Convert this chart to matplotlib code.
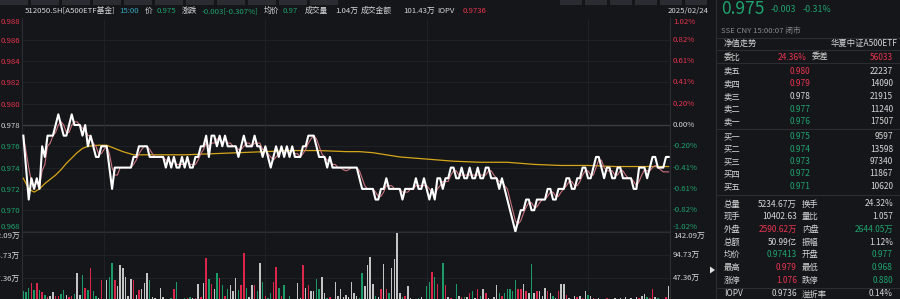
import matplotlib
matplotlib.use('Agg')
import matplotlib.pyplot as plt
import matplotlib.transforms as mtransforms
from matplotlib.patches import Rectangle, Polygon
from matplotlib.lines import Line2D

plt.rcParams['font.family'] = ['Noto Sans CJK SC', 'DejaVu Sans']

# ---------------- data ----------------
prev_close = 0.978

price = [
    0.977, 0.974, 0.971, 0.973, 0.972, 0.973, 0.972, 0.976, 0.975, 0.977,
    0.977, 0.977, 0.978, 0.979, 0.978, 0.977, 0.977, 0.978, 0.979, 0.978,
    0.978, 0.978, 0.977, 0.978, 0.976, 0.977, 0.976, 0.975, 0.975, 0.976,
    0.976, 0.976, 0.974, 0.972, 0.974, 0.974, 0.974, 0.974, 0.974, 0.974,
    0.974, 0.975, 0.975, 0.976, 0.976, 0.976, 0.976, 0.975, 0.975, 0.975,
    0.975, 0.975, 0.975, 0.974, 0.975, 0.974, 0.975, 0.974, 0.974, 0.975,
    0.974, 0.975, 0.974, 0.974, 0.975, 0.975, 0.976, 0.976, 0.977, 0.975,
    0.977, 0.977, 0.976, 0.977, 0.976, 0.977, 0.976, 0.976, 0.976, 0.976,
    0.975, 0.976, 0.977, 0.976, 0.976, 0.976, 0.977, 0.976, 0.976, 0.975,
    0.976, 0.975, 0.974, 0.975, 0.976, 0.975, 0.976, 0.975, 0.976, 0.975,
    0.976, 0.975, 0.975, 0.975, 0.976, 0.976, 0.977, 0.977, 0.977, 0.976,
    0.975, 0.975, 0.975, 0.974, 0.975, 0.974, 0.974, 0.974, 0.974, 0.974,
    0.974, 0.974, 0.974, 0.974, 0.974, 0.973, 0.972, 0.972, 0.972, 0.972,
    0.972, 0.971, 0.971, 0.972, 0.972, 0.973, 0.972, 0.972, 0.972, 0.972,
    0.972, 0.971, 0.972, 0.972, 0.972, 0.972, 0.973, 0.972, 0.972, 0.973,
    0.972, 0.971, 0.972, 0.971, 0.973, 0.973, 0.972, 0.973, 0.973, 0.974,
    0.974, 0.973, 0.973, 0.974, 0.973, 0.973, 0.974, 0.973, 0.973, 0.974,
    0.973, 0.973, 0.974, 0.974, 0.973, 0.973, 0.973, 0.972, 0.973, 0.972,
    0.971, 0.970, 0.969, 0.968, 0.969, 0.970, 0.970, 0.971, 0.971, 0.970,
    0.970, 0.971, 0.971, 0.971, 0.971, 0.972, 0.972, 0.971, 0.971, 0.972,
    0.972, 0.972, 0.973, 0.973, 0.972, 0.972, 0.973, 0.973, 0.974, 0.974,
    0.973, 0.973, 0.974, 0.975, 0.975, 0.974, 0.973, 0.974, 0.974, 0.973,
    0.973, 0.974, 0.974, 0.973, 0.973, 0.973, 0.973, 0.972, 0.972, 0.974,
    0.974, 0.974, 0.973, 0.974, 0.975, 0.975, 0.974, 0.974, 0.974, 0.975,
    0.975,
]

iopv = [
    0.9770, 0.9755, 0.9740, 0.9727, 0.9720, 0.9727, 0.9723, 0.9737, 0.9743, 0.9760,
    0.9763, 0.9770, 0.9773, 0.9780, 0.9783, 0.9780, 0.9773, 0.9773, 0.9780, 0.9783,
    0.9783, 0.9780, 0.9777, 0.9777, 0.9770, 0.9770, 0.9763, 0.9760, 0.9753, 0.9753,
    0.9757, 0.9760, 0.9753, 0.9740, 0.9733, 0.9733, 0.9740, 0.9740, 0.9740, 0.9740,
    0.9740, 0.9743, 0.9747, 0.9753, 0.9757, 0.9760, 0.9760, 0.9757, 0.9753, 0.9750,
    0.9750, 0.9750, 0.9750, 0.9747, 0.9747, 0.9743, 0.9747, 0.9743, 0.9743, 0.9743,
    0.9743, 0.9747, 0.9743, 0.9743, 0.9743, 0.9747, 0.9753, 0.9757, 0.9763, 0.9760,
    0.9763, 0.9763, 0.9767, 0.9767, 0.9763, 0.9767, 0.9763, 0.9763, 0.9760, 0.9760,
    0.9757, 0.9757, 0.9760, 0.9763, 0.9763, 0.9760, 0.9763, 0.9763, 0.9763, 0.9757,
    0.9757, 0.9753, 0.9750, 0.9747, 0.9750, 0.9753, 0.9757, 0.9753, 0.9757, 0.9753,
    0.9757, 0.9753, 0.9753, 0.9750, 0.9753, 0.9757, 0.9763, 0.9767, 0.9770, 0.9767,
    0.9760, 0.9753, 0.9750, 0.9747, 0.9747, 0.9743, 0.9743, 0.9740, 0.9740, 0.9738,
    0.9737, 0.9738, 0.9740, 0.9740, 0.9740, 0.9737, 0.9730, 0.9723, 0.9720, 0.9720,
    0.9720, 0.9717, 0.9713, 0.9713, 0.9717, 0.9723, 0.9723, 0.9723, 0.9720, 0.9720,
    0.9720, 0.9717, 0.9717, 0.9717, 0.9720, 0.9720, 0.9723, 0.9723, 0.9723, 0.9723,
    0.9723, 0.9720, 0.9717, 0.9713, 0.9720, 0.9723, 0.9727, 0.9727, 0.9727, 0.9733,
    0.9737, 0.9737, 0.9733, 0.9733, 0.9733, 0.9733, 0.9733, 0.9733, 0.9733, 0.9733,
    0.9733, 0.9733, 0.9733, 0.9737, 0.9737, 0.9733, 0.9730, 0.9727, 0.9727, 0.9723,
    0.9720, 0.9710, 0.9700, 0.9690, 0.9687, 0.9690, 0.9697, 0.9703, 0.9707, 0.9707,
    0.9703, 0.9703, 0.9707, 0.9710, 0.9710, 0.9713, 0.9717, 0.9717, 0.9713, 0.9713,
    0.9717, 0.9720, 0.9723, 0.9727, 0.9727, 0.9723, 0.9723, 0.9727, 0.9733, 0.9737,
    0.9737, 0.9733, 0.9733, 0.9740, 0.9747, 0.9747, 0.9740, 0.9737, 0.9737, 0.9737,
    0.9733, 0.9733, 0.9737, 0.9737, 0.9733, 0.9730, 0.9730, 0.9727, 0.9723, 0.9727,
    0.9733, 0.9738, 0.9737, 0.9737, 0.9740, 0.9742, 0.9740, 0.9738, 0.9736, 0.9736,
    0.9736,
]

avg_minutes = [0, 2, 4, 6, 8, 10, 12, 14, 16, 18, 20, 22, 24, 28, 31, 34, 37, 41,
               50, 60, 70, 80, 90, 100, 110, 120, 125, 130, 135, 140, 145, 150,
               155, 160, 170, 180, 185, 190, 200, 210, 220, 230, 240]
avg_price = [0.9730, 0.9720, 0.9717, 0.9720, 0.9725, 0.9729, 0.9733, 0.9738,
             0.9744, 0.9749, 0.9754, 0.9758, 0.9760, 0.9761, 0.9761, 0.9758,
             0.9755, 0.9752, 0.9752, 0.9752, 0.9753, 0.9754, 0.9755, 0.9756,
             0.9756, 0.9755, 0.9755, 0.9754, 0.9752, 0.9750, 0.9749, 0.9748,
             0.9747, 0.9746, 0.9745, 0.9745, 0.9744, 0.9743, 0.9742, 0.9742,
             0.9741, 0.9741, 0.9741]

volume = [  # 万
    20, 19, 27, 37, 22, 37, 22, 18, 12, 8,
    10, 18, 10, 10, 14, 22, 12, 8, 10, 14,
    57, 12, 53, 27, 22, 68, 20, 10, 6, 43,
    4, 43, 49, 79, 43, 30, 74, 68, 49, 10,
    45, 43, 12, 22, 24, 38, 57, 43, 8, 6,
    5, 26, 8, 5, 4, 6, 24, 39, 4, 5,
    7, 6, 8, 7, 6, 34, 8, 37, 88, 45,
    34, 24, 57, 47, 32, 10, 24, 32, 20, 47,
    22, 32, 99, 27, 8, 32, 32, 20, 79, 39,
    10, 6, 16, 40, 71, 27, 10, 32, 4, 10,
    3, 4, 37, 6, 74, 27, 32, 20, 20, 45,
    24, 49, 16, 6, 8, 5, 39, 10, 24, 8,
    12, 8, 40, 16, 10, 6, 57, 30, 74, 90,
    34, 10, 8, 24, 76, 24, 16, 68, 86, 140,
    16, 8, 10, 30, 6, 4, 5, 6, 8, 5,
    30, 39, 60, 50, 36, 4, 79, 33, 8, 6,
    4, 36, 10, 8, 8, 8, 16, 20, 6, 24,
    10, 24, 16, 6, 4, 8, 33, 16, 10, 16,
    24, 24, 20, 43, 24, 24, 36, 20, 16, 77,
    16, 20, 20, 10, 27, 20, 16, 10, 6, 20,
    36, 36, 13, 6, 4, 10, 8, 10, 6, 20,
    13, 10, 6, 4, 6, 4, 5, 6, 4, 5,
    6, 5, 6, 4, 8, 5, 6, 4, 8, 6,
    10, 14, 8, 6, 24, 8, 6, 5, 4, 8,
    30,
]

price_ticks = [0.968, 0.970, 0.972, 0.974, 0.976, 0.978, 0.980, 0.982, 0.984, 0.986, 0.988]
pct_labels = ['-1.02%', '-0.82%', '-0.61%', '-0.41%', '-0.20%', '0.00%',
              '0.20%', '0.41%', '0.61%', '0.82%', '1.02%']
vol_ticks = [47.36, 94.73, 142.09]
vol_labels = ['47.36万', '94.73万', '142.09万']
time_grid = [30, 90, 150, 210]

header = [
    ('512050.SH[A500ETF基金]', 'w'), ('15:00', 't'), ('价', 'w'), ('0.975', 'g'),
    ('涨跌', 'w'), ('-0.003[-0.307%]', 'g'), ('均价', 'w'), ('0.97', 'g'),
    ('成交量', 'w'), ('1.04万', 'w'), ('成交金额', 'w'), ('101.43万', 'w'),
    ('IOPV', 'w'), ('0.9736', 'r'),
]
header_x = [25, 119, 145, 157, 182, 202, 264, 283, 305, 335, 361, 403, 437, 463]

ask_labels = ['卖五', '卖四', '卖三', '卖二', '卖一']
ask_prices = ['0.980', '0.979', '0.978', '0.977', '0.976']
ask_vols = ['22237', '14090', '21915', '11240', '17507']
bid_labels = ['买一', '买二', '买三', '买四', '买五']
bid_prices = ['0.975', '0.974', '0.973', '0.972', '0.971']
bid_vols = ['9597', '13598', '97340', '11867', '10620']

stats_rows = [
    ('总量', '5234.67万', 'w', '换手', '24.32%', 'w'),
    ('现手', '10402.63', 'w', '量比', '1.057', 'w'),
    ('外盘', '2590.62万', 'r', '内盘', '2644.05万', 'g'),
    ('总额', '50.99亿', 'w', '振幅', '1.12%', 'w'),
    ('均价', '0.97413', 'g', '开盘', '0.977', 'g'),
    ('最高', '0.979', 'r', '最低', '0.968', 'g'),
    ('涨停', '1.076', 'r', '跌停', '0.880', 'g'),
]

# ---------------- style ----------------
W, H = 900, 299
BG = '#15161a'
RED = '#e8344f'
GREEN = '#1fa36e'
WHITE = '#d6d6d6'
TEAL = '#35a9c0'
GRAY = '#8a8b90'
GRID = '#232429'
SEP = '#2c2d33'
cmap = {'w': WHITE, 'r': RED, 'g': GREEN, 't': TEAL}


def fx(px):
    return px / W


def fy(py):
    return 1 - py / H


def price_color(v):
    if v > prev_close + 1e-9:
        return RED
    if v < prev_close - 1e-9:
        return GREEN
    return WHITE


fig = plt.figure(figsize=(9, 2.99), dpi=100, facecolor=BG)

# top tab strip (cut off in the reference)
for x0 in range(0, 330, 31):
    fig.add_artist(Rectangle((fx(x0), fy(5)), fx(28), 5 / H, transform=fig.transFigure,
                             facecolor='#2b2c31', edgecolor='none'))
for x0 in range(560, 710, 25):
    fig.add_artist(Rectangle((fx(x0), fy(5)), fx(22), 5 / H, transform=fig.transFigure,
                             facecolor='#2b2c31', edgecolor='none'))

# ---------------- main price axes ----------------
top_px, bot_px = 18.5, 231.5
ax = fig.add_axes([fx(22), fy(bot_px), fx(648), (bot_px - top_px) / H])
ax.set_facecolor(BG)
minutes = list(range(len(price)))
ax.set_xlim(-0.5, len(price) - 0.5)
ax.set_ylim(price_ticks[0], price_ticks[-1])

for t in price_ticks:
    if abs(t - prev_close) < 1e-9:
        ax.axhline(t, color='#3d3e44', lw=0.9, zorder=1)
    else:
        ax.axhline(t, color=GRID, lw=0.6, zorder=1)
for m in time_grid:
    ax.axvline(m, color=GRID, lw=0.6, zorder=1)

ax.plot(avg_minutes, avg_price, color='#d6a619', lw=0.9, zorder=3)
ax.plot(minutes, iopv, color='#c9727c', lw=0.8, zorder=4)
ax.plot(minutes, price, color='#ffffff', lw=1.5, zorder=5)

ax.set_xticks([])
ax.set_yticks(price_ticks)
ax.set_yticklabels([f'{t:.3f}' for t in price_ticks])
ax.tick_params(axis='y', length=0, pad=1.5, labelsize=5.6)
labels = ax.get_yticklabels()
for t, lab in zip(price_ticks, labels):
    lab.set_color(price_color(t))
labels[0].set_va('bottom')
labels[-1].set_va('top')

trans = mtransforms.blended_transform_factory(ax.transAxes, ax.transData)
n = len(price_ticks)
for i, (t, lab) in enumerate(zip(price_ticks, pct_labels)):
    va = 'bottom' if i == 0 else ('top' if i == n - 1 else 'center')
    ax.text(1 + 3 / 648, t, lab, transform=trans, ha='left', va=va,
            fontsize=5.6, color=price_color(t), clip_on=False)

for s in ['top', 'bottom']:
    ax.spines[s].set_visible(False)
for s in ['left', 'right']:
    ax.spines[s].set_color(SEP)
    ax.spines[s].set_linewidth(0.8)

# ---------------- volume axes ----------------
vax = fig.add_axes([fx(22), fy(301), fx(648), 69 / H])
vax.set_facecolor(BG)
vax.set_xlim(-0.5, len(price) - 0.5)
vax.set_ylim(0, vol_ticks[-1])
vol_colors = []
for i, p in enumerate(price):
    ref = prev_close if i == 0 else price[i - 1]
    if p > ref + 1e-9:
        vol_colors.append('#d9264a')
    elif p < ref - 1e-9:
        vol_colors.append('#1c9a68')
    else:
        vol_colors.append('#c4c4c4')
vax.bar(minutes, volume, width=0.55, color=vol_colors, zorder=3)
for t in vol_ticks[:-1]:
    vax.axhline(t, color=GRID, lw=0.6, zorder=1)
vax.axhline(vol_ticks[-1], color=SEP, lw=0.9, zorder=1)
for m in time_grid:
    vax.axvline(m, color=GRID, lw=0.6, zorder=1)
vax.set_xticks([])
vax.set_yticks(vol_ticks)
vax.set_yticklabels(vol_labels)
vax.tick_params(axis='y', length=0, pad=1.5, labelsize=5.6, labelcolor=WHITE)
vax.get_yticklabels()[-1].set_va('top')
vtrans = mtransforms.blended_transform_factory(vax.transAxes, vax.transData)
for i, (t, lab) in enumerate(zip(vol_ticks, vol_labels)):
    vax.text(1 + 3 / 648, t, lab, transform=vtrans, ha='left',
             va='top' if i == len(vol_ticks) - 1 else 'center',
             fontsize=5.6, color=WHITE, clip_on=False)
for s in ['top', 'bottom']:
    vax.spines[s].set_visible(False)
for s in ['left', 'right']:
    vax.spines[s].set_color(SEP)
    vax.spines[s].set_linewidth(0.8)

# ---------------- header ----------------
for (txt, c), x in zip(header, header_x):
    fig.text(fx(x), fy(11), txt, fontsize=5.6, color=cmap[c], ha='left', va='center')
fig.text(fx(709), fy(11), '2025/02/24', fontsize=5.6, color=WHITE, ha='right', va='center')

# ---------------- right panel ----------------
fig.add_artist(Line2D([fx(716), fx(716)], [0, 1], transform=fig.transFigure, color=SEP, lw=0.8))
for yy in [38, 50, 63, 129, 195, 288]:
    fig.add_artist(Line2D([fx(716), 1], [fy(yy), fy(yy)], transform=fig.transFigure,
                          color=SEP, lw=0.8))

fig.text(fx(721), fy(9.5), '0.975', fontsize=12.5, color=GREEN, ha='left', va='center')
fig.text(fx(771), fy(9.5), '-0.003', fontsize=6.4, color=GREEN, ha='left', va='center')
fig.text(fx(803), fy(9.5), '-0.31%', fontsize=6.4, color=GREEN, ha='left', va='center')
fig.text(fx(721), fy(31), 'SSE CNY 15:00:07 闭市', fontsize=5.6, color=GRAY, ha='left', va='center')
fig.text(fx(724), fy(43.5), '净值走势', fontsize=6, color=WHITE, ha='left', va='center')
fig.text(fx(898), fy(43.5), '华夏中证A500ETF', fontsize=6, color=WHITE, ha='right', va='center')
fig.text(fx(724), fy(57), '委比', fontsize=6, color=WHITE, ha='left', va='center')
fig.text(fx(807), fy(57), '24.36%', fontsize=6, color=RED, ha='right', va='center')
fig.text(fx(812), fy(57), '委差', fontsize=6, color=WHITE, ha='left', va='center')
fig.text(fx(893), fy(57), '56033', fontsize=6, color=RED, ha='right', va='center')

ask_y = [71, 84, 96.5, 109, 121.5]
for lab, p, v, yy in zip(ask_labels, ask_prices, ask_vols, ask_y):
    fig.text(fx(724), fy(yy), lab, fontsize=6, color=WHITE, ha='left', va='center')
    fig.text(fx(800), fy(yy), p, fontsize=6, color=price_color(float(p)), ha='center', va='center')
    fig.text(fx(893), fy(yy), v, fontsize=6, color=WHITE, ha='right', va='center')
bid_y = [136.5, 149, 161.5, 174, 186.5]
for lab, p, v, yy in zip(bid_labels, bid_prices, bid_vols, bid_y):
    fig.text(fx(724), fy(yy), lab, fontsize=6, color=WHITE, ha='left', va='center')
    fig.text(fx(800), fy(yy), p, fontsize=6, color=price_color(float(p)), ha='center', va='center')
    fig.text(fx(893), fy(yy), v, fontsize=6, color=WHITE, ha='right', va='center')

for i, (l1, v1, c1, l2, v2, c2) in enumerate(stats_rows):
    yy = 204 + i * 12.7
    fig.text(fx(724), fy(yy), l1, fontsize=6, color=WHITE, ha='left', va='center')
    fig.text(fx(797), fy(yy), v1, fontsize=6, color=cmap[c1], ha='right', va='center')
    fig.text(fx(802), fy(yy), l2, fontsize=6, color=WHITE, ha='left', va='center')
    fig.text(fx(893), fy(yy), v2, fontsize=6, color=cmap[c2], ha='right', va='center')

fig.text(fx(724), fy(294), 'IOPV', fontsize=6, color=WHITE, ha='left', va='center')
fig.text(fx(797), fy(294), '0.9736', fontsize=6, color=WHITE, ha='right', va='center')
fig.text(fx(802), fy(294), '溢折率', fontsize=6, color=WHITE, ha='left', va='center')
fig.text(fx(893), fy(294), '0.14%', fontsize=6, color=WHITE, ha='right', va='center')

fig.add_artist(Polygon([[fx(710), fy(266.5)], [fx(710), fy(273.5)], [fx(715), fy(270)]],
                       closed=True, transform=fig.transFigure, facecolor='#e0e0e0',
                       edgecolor='none'))

fig.savefig('out.png', dpi=100, facecolor=BG)
